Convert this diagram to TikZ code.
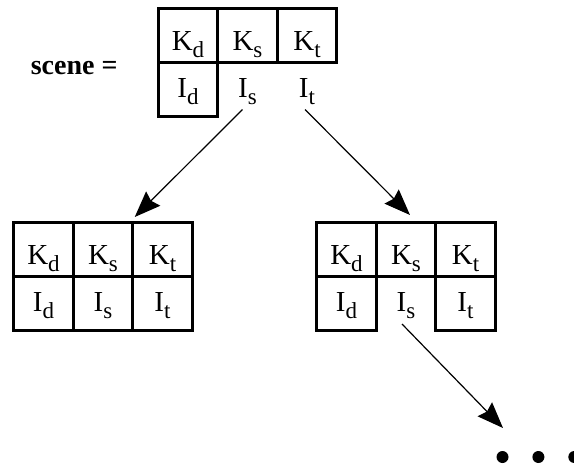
\documentclass[tikz,border=0pt]{standalone}
\usepackage{fontspec}
\setmainfont{Liberation Serif}
\usetikzlibrary{positioning, calc, arrows.meta}

\newcommand{\lowsub}[1]{\raisebox{-7pt}{\fontsize{23}{23}\selectfont #1}}

\begin{document}
\begin{tikzpicture}[x=1pt, y=1pt, font=\fontsize{29}{34}\selectfont,
    cell/.style={draw, line width=3pt, minimum width=59.5pt,
      minimum height=54pt, inner sep=0pt, outer sep=0pt,
      text height=30pt, text depth=0pt},
    icell/.style={cell, text height=16pt},
    open/.style={icell, draw=none},
    link/.style={line width=1.2pt, -{Stealth[length=26pt, width=20pt, inset=3pt]}},
    dot/.style={circle, fill, inner sep=0pt, minimum size=12pt}]
  \useasboundingbox (0,0) rectangle (574,-466);

  \node[anchor=base east, font=\fontsize{28}{33}\selectfont\bfseries] (scene) at (121,-74) {scene =};

  % root scene
  \node[cell] (rootKd) at (188,-35.5) {K\lowsub{d}};
  \node[cell, right=0pt of rootKd] (rootKs) {K\lowsub{s}};
  \node[cell, right=0pt of rootKs] (rootKt) {K\lowsub{t}};
  \node[icell, below=0pt of rootKd] (rootId) {I\lowsub{d}};
  \node[open, below=0pt of rootKs] (rootIs) {I\lowsub{s}};
  \node[open, below=0pt of rootKt] (rootIt) {I\lowsub{t}};

  % left child
  \node[cell] (leftKd) at (43.5,-249) {K\lowsub{d}};
  \node[cell, right=0pt of leftKd] (leftKs) {K\lowsub{s}};
  \node[cell, right=0pt of leftKs] (leftKt) {K\lowsub{t}};
  \node[icell, below=0pt of leftKd] (leftId) {I\lowsub{d}};
  \node[icell, below=0pt of leftKs] (leftIs) {I\lowsub{s}};
  \node[icell, below=0pt of leftKt] (leftIt) {I\lowsub{t}};

  % right child
  \node[cell] (rightKd) at (346.5,-249) {K\lowsub{d}};
  \node[cell, right=0pt of rightKd] (rightKs) {K\lowsub{s}};
  \node[cell, right=0pt of rightKs] (rightKt) {K\lowsub{t}};
  \node[icell, below=0pt of rightKd] (rightId) {I\lowsub{d}};
  \node[open, below=0pt of rightKs] (rightIs) {I\lowsub{s}};
  \node[icell, below=0pt of rightKt] (rightIt) {I\lowsub{t}};

  % more levels
  \node[dot] (dotA) at (502.5,-457) {};
  \node[dot, right=23.5pt of dotA] (dotB) {};
  \node[dot, right=23.5pt of dotB] (dotC) {};

  \draw[link] ($(rootIs.south)+(-5,7)$) -- ($(leftKt.north west)+(2,5)$);
  \draw[link] ($(rootIt.south)+(-2,7)$) -- ($(rightKs.north)+(4,7)$);
  \draw[link] ($(rightIs.south)+(-4,6)$) -- ($(dotA)+(0.5,29)$);
\end{tikzpicture}
\end{document}
